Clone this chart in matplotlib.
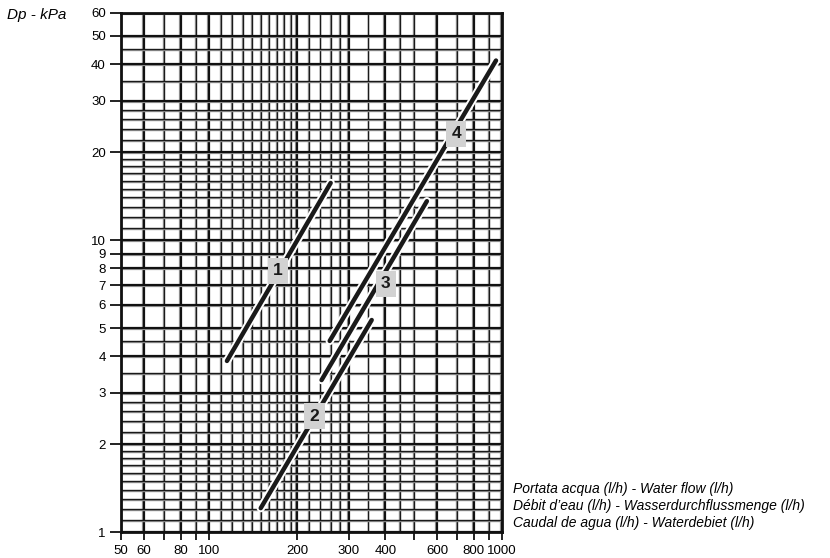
import matplotlib
matplotlib.use('Agg')
import matplotlib.pyplot as plt
import matplotlib.patheffects as pe
from matplotlib.ticker import FixedLocator, NullFormatter, FixedFormatter

plt.rcParams['font.family'] = ['Liberation Sans', 'DejaVu Sans']

# curves: start / end points (flow l/h, dp kPa)
curve_ids = ['1', '2', '3', '4']
flow_start = [115, 150, 242, 258]
flow_end = [260, 359, 554, 954]
dp_start = [3.86, 1.21, 3.32, 4.52]
dp_end = [15.7, 5.33, 13.6, 41.2]
label_flow = [172, 229, 401, 697]
label_dp = [7.85, 2.50, 7.08, 23.1]

# axis ticks
x_ticks = [50, 60, 70, 80, 90, 100, 200, 300, 400, 500, 600, 700, 800, 900, 1000]
x_labels = ['50', '60', '', '80', '', '100', '200', '300', '400', '', '600', '', '800', '', '1000']
x_minor = [70, 90, 110, 120, 130, 140, 150, 160, 170, 180, 190,
           220, 240, 260, 280, 350, 450, 500, 700, 900]
y_ticks = [1, 2, 3, 4, 5, 6, 7, 8, 9, 10, 20, 30, 40, 50, 60]
y_minor = [1.1, 1.2, 1.3, 1.4, 1.5, 1.6, 1.7, 1.8, 1.9, 2.2, 2.4, 2.6, 2.8,
           3.5, 4.5, 11, 12, 13, 14, 15, 16, 17, 18, 19, 22, 24, 26, 28, 35, 45]

fig = plt.figure(figsize=(8.3, 5.58), dpi=100)
ax = fig.add_axes([0.1458, 0.046, 0.459, 0.931])
ax.set_xscale('log')
ax.set_yscale('log')
ax.set_xlim(50, 1000)
ax.set_ylim(1, 60)

shadow = [pe.SimpleLineShadow(offset=(-0.7, -0.7), shadow_color='#9a9a9a', alpha=1.0), pe.Normal()]

# grid lines
for v in x_minor:
    ax.axvline(v, color='#1a1a1a', lw=1.0, zorder=1, path_effects=shadow)
for v in [t for t in x_ticks if t not in x_minor]:
    ax.axvline(v, color='#111111', lw=1.6, zorder=1, path_effects=shadow)
for v in y_minor:
    ax.axhline(v, color='#1a1a1a', lw=1.0, zorder=1, path_effects=shadow)
for v in y_ticks:
    ax.axhline(v, color='#111111', lw=1.6, zorder=1, path_effects=shadow)

# curves
halo = [pe.Stroke(linewidth=6, foreground='white'), pe.Normal()]
for i in range(len(curve_ids)):
    ax.plot([flow_start[i], flow_end[i]], [dp_start[i], dp_end[i]],
            color='#1a1a1a', lw=3.2, solid_capstyle='round', zorder=3, path_effects=halo)
    ax.text(label_flow[i], label_dp[i], curve_ids[i], ha='center', va='center',
            fontsize=12.5, fontweight='bold', color='#1a1a1a', zorder=5,
            bbox=dict(boxstyle='square,pad=0.3', fc='#d2d2d2', ec='none'))

# ticks
ax.xaxis.set_major_locator(FixedLocator(x_ticks))
ax.xaxis.set_major_formatter(FixedFormatter(x_labels))
ax.xaxis.set_minor_locator(FixedLocator([]))
ax.xaxis.set_minor_formatter(NullFormatter())
ax.yaxis.set_major_locator(FixedLocator(y_ticks))
ax.yaxis.set_major_formatter(FixedFormatter([str(v) for v in y_ticks]))
ax.yaxis.set_minor_locator(FixedLocator([]))
ax.yaxis.set_minor_formatter(NullFormatter())
ax.tick_params(axis='x', direction='out', length=6, width=1.3, pad=3, labelsize=9.5, color='#111111')
ax.tick_params(axis='y', direction='out', length=8, width=1.3, pad=3, labelsize=9.5, color='#111111')

for s in ax.spines.values():
    s.set_linewidth(2)
    s.set_color('#111111')

fig.text(0.009, 0.974, 'Dp - kPa', fontsize=11, style='italic', va='center')
fig.text(0.618, 0.093, 'Portata acqua (l/h) - Water flow (l/h)\n'
         'Débit d\u2019eau (l/h) - Wasserdurchflussmenge (l/h)\n'
         'Caudal de agua (l/h) - Waterdebiet (l/h)',
         fontsize=10, style='italic', va='center', linespacing=1.27)

plt.savefig('out.png', dpi=100)
